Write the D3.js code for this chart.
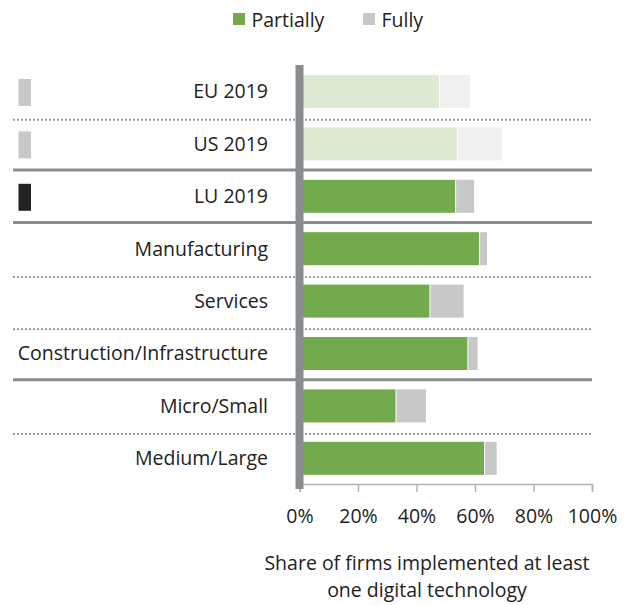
<!DOCTYPE html>
<html>
<head>
<meta charset="utf-8">
<script src="https://cdn.jsdelivr.net/npm/d3@7"></script>
<style>
  body { margin: 0; background: #fff; }
  text { font-family: "Open Sans", "Noto Sans", sans-serif; fill: #222; }
</style>
</head>
<body>
<div id="chart"></div>
<script>
// data
const categories = ["EU 2019", "US 2019", "LU 2019", "Manufacturing", "Services",
                    "Construction/Infrastructure", "Micro/Small", "Medium/Large"];
const partially = [47.7, 53.8, 53.2, 61.4, 44.4, 57.4, 32.8, 63.1];
const fully     = [10.6, 15.4, 6.5, 2.7, 11.7, 3.5, 10.4, 4.3];
const benchmark = ["EU 2019", "US 2019"];          // faded bars
const markers   = { "EU 2019": "#c8c8c8", "US 2019": "#c8c8c8", "LU 2019": "#222222" };
const solidAfter = ["US 2019", "LU 2019", "Construction/Infrastructure"];
const xTicks = [0, 20, 40, 60, 80, 100];

const W = 630, H = 605;
const fs = "19.5px";
const svg = d3.select("#chart").append("svg")
    .attr("width", W)
    .attr("height", H);

const x = d3.scaleLinear().domain([0, 100]).range([299.5, 592]);
const y = d3.scaleBand().domain(categories)
    .range([55.6, 494.2])
    .paddingInner(0.37)
    .paddingOuter(0.37);

const rows = categories.map((c, i) => ({ cat: c, p: partially[i], f: fully[i], faded: benchmark.includes(c) }));

// separators between rows
const seps = categories.slice(0, -1).map((c, i) => ({
  y: (y(c) + y.bandwidth() + y(categories[i + 1])) / 2,
  solid: solidAfter.includes(c)
}));
svg.selectAll(".sep")
  .data(seps)
  .enter().append("line")
    .attr("class", "sep")
    .attr("x1", 13).attr("x2", 592)
    .attr("y1", d => d.solid ? d.y : d.y + 2)
    .attr("y2", d => d.solid ? d.y : d.y + 2)
    .attr("stroke", d => d.solid ? "#8a8d90" : "#9a9a9a")
    .attr("stroke-width", d => d.solid ? 3 : 2)
    .attr("stroke-dasharray", d => d.solid ? null : "2,2");

// partially bars
svg.selectAll(".bar-p")
  .data(rows)
  .enter().append("rect")
    .attr("class", "bar-p")
    .attr("x", x(0))
    .attr("y", d => y(d.cat))
    .attr("width", d => x(d.p) - x(0))
    .attr("height", y.bandwidth())
    .attr("fill", d => d.faded ? "#dde9d3" : "#72aa4d");

// fully bars, stacked
svg.selectAll(".bar-f")
  .data(rows)
  .enter().append("rect")
    .attr("class", "bar-f")
    .attr("x", d => x(d.p) + 1)
    .attr("y", d => y(d.cat))
    .attr("width", d => x(d.p + d.f) - x(d.p) - 1)
    .attr("height", y.bandwidth())
    .attr("fill", d => d.faded ? "#f0f0f0" : "#c8c8c8");

// category labels
svg.selectAll(".lbl")
  .data(categories)
  .enter().append("text")
    .attr("class", "lbl")
    .attr("x", 268)
    .attr("y", d => y(d) + y.bandwidth() / 2)
    .attr("dy", "0.35em")
    .attr("text-anchor", "end")
    .style("font-size", fs)
    .text(d => d);

// small markers on the left
svg.selectAll(".mark")
  .data(Object.keys(markers))
  .enter().append("rect")
    .attr("class", "mark")
    .attr("x", 18.5)
    .attr("y", d => y(d) + y.bandwidth() / 2 - 12.5)
    .attr("width", 12.5)
    .attr("height", 27)
    .attr("fill", d => markers[d]);

// x axis
const xAxis = svg.append("g")
    .attr("transform", "translate(0,484)")
    .call(d3.axisBottom(x).tickValues(xTicks).tickSize(8).tickPadding(17)
      .tickFormat(d => d + "%"));
xAxis.select(".domain").attr("stroke", "#b4b4b4").attr("stroke-width", 1.5);
xAxis.selectAll(".tick line").attr("stroke", "#b4b4b4").attr("stroke-width", 1.5);
xAxis.selectAll(".tick text")
    .style("font-size", fs)
    .style("font-family", "'Open Sans', 'Noto Sans', sans-serif")
    .attr("fill", "#222");

// thick vertical baseline
svg.append("line")
    .attr("x1", x(0)).attr("x2", x(0))
    .attr("y1", 65).attr("y2", 489)
    .attr("stroke", "#8a8d90")
    .attr("stroke-width", 8);

// axis title
svg.append("text")
    .attr("x", 427).attr("y", 570)
    .attr("text-anchor", "middle")
    .style("font-size", fs)
    .text("Share of firms implemented at least");
svg.append("text")
    .attr("x", 427).attr("y", 597)
    .attr("text-anchor", "middle")
    .style("font-size", fs)
    .text("one digital technology");

// legend
const legend = [{ name: "Partially", color: "#72aa4d", x: 233 }, { name: "Fully", color: "#c8c8c8", x: 363 }];
const lg = svg.selectAll(".leg")
  .data(legend)
  .enter().append("g")
    .attr("class", "leg")
    .attr("transform", d => "translate(" + d.x + ",13)");
lg.append("rect").attr("width", 12).attr("height", 12).attr("fill", d => d.color);
lg.append("text")
    .attr("x", 18.5).attr("y", 13.5)
    .style("font-size", fs)
    .text(d => d.name);
</script>
</body>
</html>
